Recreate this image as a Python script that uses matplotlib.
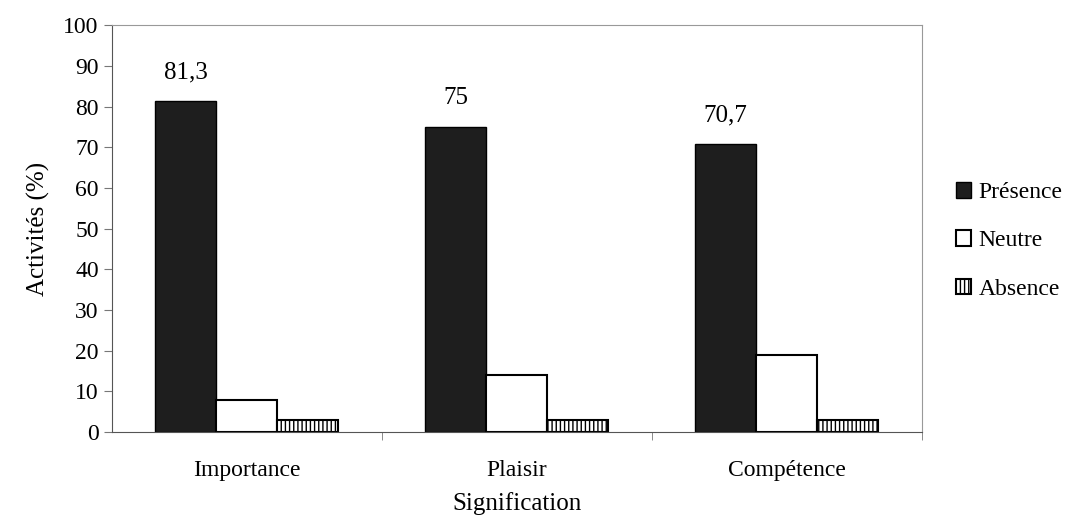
import numpy as np
import matplotlib
matplotlib.use("Agg")
import matplotlib.pyplot as plt

plt.rcParams['font.family'] = ['Liberation Serif', 'DejaVu Serif']
plt.rcParams['hatch.linewidth'] = 1.0

categories = ["Importance", "Plaisir", "Compétence"]
presence = [81.3, 75, 70.7]
neutre = [8, 14, 19]
absence = [3, 3, 3]
presence_labels = ["81,3", "75", "70,7"]

fig = plt.figure(figsize=(10.87, 5.25), dpi=100)
ax = fig.add_axes([0.103, 0.177, 0.745, 0.775])

x = np.arange(len(categories))
w = 0.226

ax.bar(x - w, presence, w, color="#1e1e1e", edgecolor="black", linewidth=1, label="Présence")
ax.bar(x, neutre, w, color="white", edgecolor="black", linewidth=1.5, label="Neutre")
ax.bar(x + w, absence, w, color="white", edgecolor="black", linewidth=1.5,
       hatch="||||", label="Absence")

for xi, v, txt in zip(x, presence, presence_labels):
    ax.annotate(txt, (xi - w, v), xytext=(0, 13), textcoords="offset points",
                ha="center", va="bottom", fontsize=18)

ax.set_xlim(-0.5, 2.5)
ax.set_ylim(0, 100)
ax.set_yticks(range(0, 101, 10))
ax.set_xticks(x)
ax.set_xticklabels(categories)
ax.set_xticks([0.5, 1.5, 2.5], minor=True)
ax.tick_params(axis="x", which="major", length=0, pad=20, labelsize=17)
ax.tick_params(axis="x", which="minor", length=6, direction="out", color="#777777")
ax.tick_params(axis="y", length=6, direction="out", labelsize=17, color="#777777")

for s in ["top", "right"]:
    ax.spines[s].set_color("#999999")
for s in ["left", "bottom"]:
    ax.spines[s].set_color("#555555")

ax.set_ylabel("Activités (%)", fontsize=18, labelpad=10)
ax.set_xlabel("Signification", fontsize=18, labelpad=8)

ax.legend(loc="center left", bbox_to_anchor=(1.022, 0.47), frameon=False,
          fontsize=17, handlelength=0.65, handleheight=0.65, handletextpad=0.3,
          labelspacing=1.15, borderpad=0.2)

fig.savefig("out.png", dpi=100)
